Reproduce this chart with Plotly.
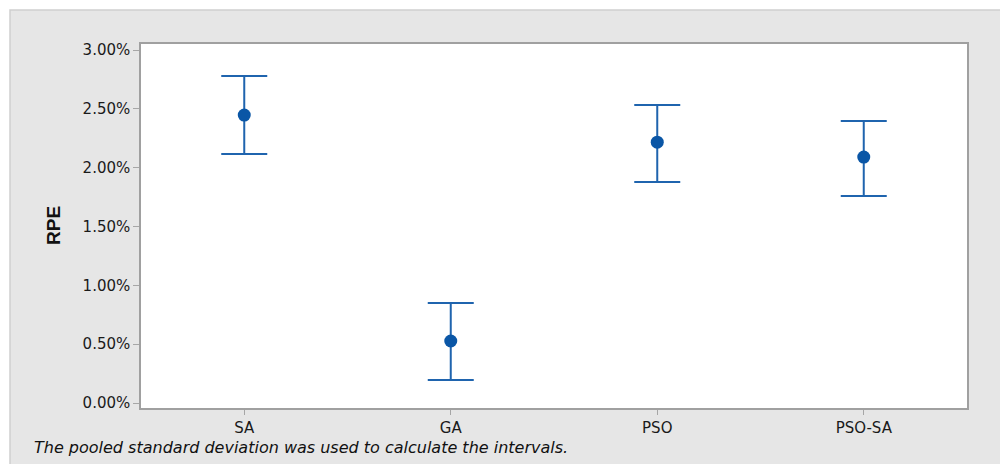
import plotly.graph_objects as go

categories = ["SA", "GA", "PSO", "PSO-SA"]
means = [0.02447, 0.00527, 0.02217, 0.02090]
upper = [0.02778, 0.00850, 0.02532, 0.02396]
lower = [0.02116, 0.00195, 0.01878, 0.01759]
y_ticks = [0.0, 0.005, 0.01, 0.015, 0.02, 0.025, 0.03]
footnote = "The pooled standard deviation was used to calculate the intervals."

err_plus = [u - m for u, m in zip(upper, means)]
err_minus = [m - l for m, l in zip(means, lower)]

FW, FH = 1000, 464
L, T, W, H = 141, 44, 826, 364


def px(x):  # page x -> paper
    return (x - L) / W


def py(y):  # page y -> paper
    return (T + H - y) / H


fig = go.Figure()
fig.add_trace(go.Scatter(
    x=categories, y=means, mode="markers",
    marker=dict(color="#0a56a6", size=13),
    error_y=dict(type="data", symmetric=False, array=err_plus, arrayminus=err_minus,
                 color="#1f64ae", thickness=2, width=23),
    showlegend=False,
))

fig.update_layout(
    width=FW, height=FH,
    margin=dict(l=L, r=FW - L - W, t=T, b=FH - T - H, pad=0),
    paper_bgcolor="#e6e6e6", plot_bgcolor="white",
    font=dict(family="DejaVu Sans", size=15, color="#1a1a1a"),
    xaxis=dict(range=[-0.5, 3.5], showline=True, mirror=True, linecolor="#a0a0a0",
               linewidth=1.5, ticks="outside", ticklen=5, tickcolor="#a6a6a6",
               showgrid=False, zeroline=False, tickfont=dict(size=15, color="#1a1a1a")),
    yaxis=dict(range=[-0.000425, 0.03051], tickvals=y_ticks, tickformat=".2%",
               showline=True, mirror=True, linecolor="#a0a0a0", linewidth=1.5,
               ticks="outside", ticklen=6, tickcolor="#a6a6a6", showgrid=False,
               zeroline=False, tickfont=dict(size=15, color="#1a1a1a")),
    shapes=[
        dict(type="rect", xref="paper", yref="paper", x0=px(-5), x1=px(10), y0=py(-5), y1=py(480),
             fillcolor="white", line=dict(width=0), layer="above"),
        dict(type="rect", xref="paper", yref="paper", x0=px(-5), x1=px(1010), y0=py(-5), y1=py(10),
             fillcolor="white", line=dict(width=0), layer="above"),
        dict(type="rect", xref="paper", yref="paper", x0=px(10), x1=px(1020), y0=py(10), y1=py(480),
             fillcolor="rgba(0,0,0,0)", line=dict(width=1.5, color="#cfcfcf"), layer="above"),
    ],
    annotations=[
        dict(text="<b>RPE</b>", xref="paper", yref="paper", x=px(53), y=py(226),
             xanchor="center", yanchor="middle", showarrow=False, textangle=-90,
             font=dict(family="Liberation Sans", size=19, color="#111")),
        dict(text="<i>" + footnote + "</i>", xref="paper", yref="paper", x=px(32), y=py(447),
             xanchor="left", yanchor="middle", showarrow=False,
             font=dict(family="DejaVu Sans", size=16, color="#111")),
    ],
)

fig.write_html(
    "out.html",
    config={"displayModeBar": False},
    post_script="document.body.style.margin='0';document.body.style.overflow='hidden';",
)
